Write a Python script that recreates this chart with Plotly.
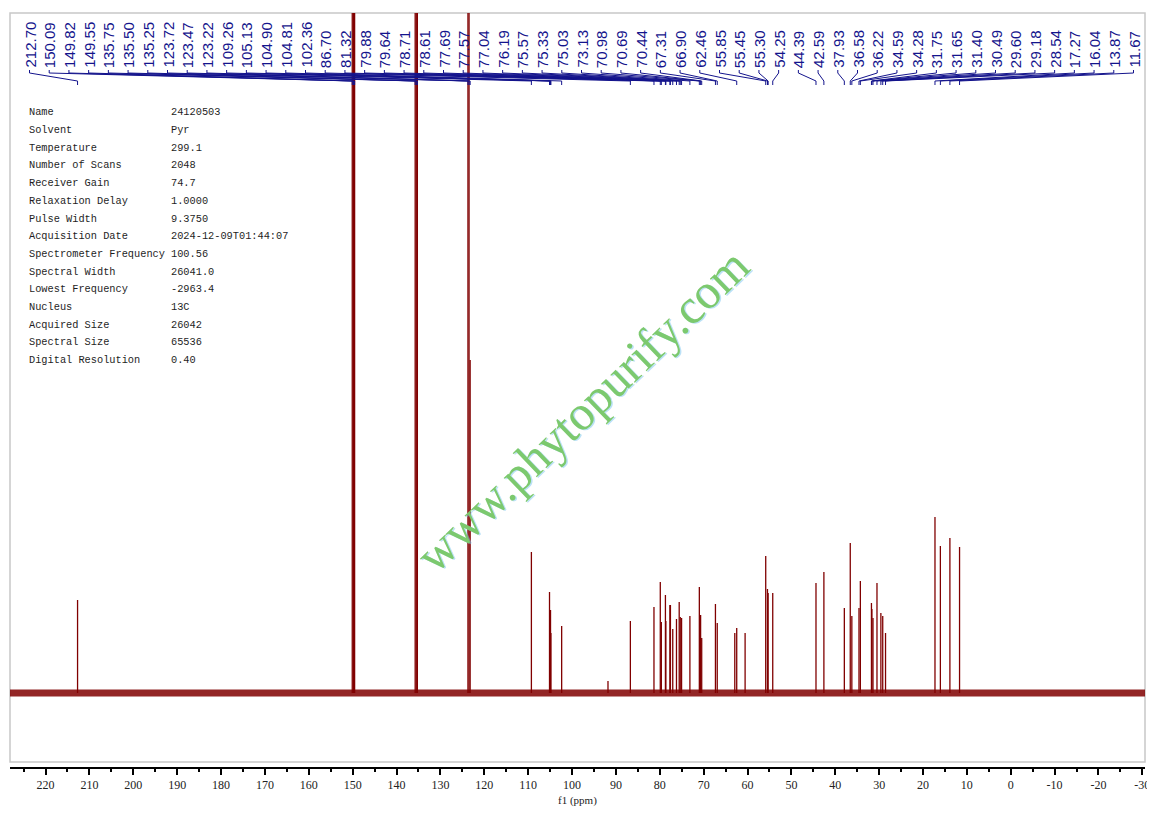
import numpy as np
import plotly.graph_objects as go

# --- data (13C, pyridine-d5) ---
# labelled peaks, ppm, in the order they appear in the label row
peak_ppm = [212.70, 150.09, 149.82, 149.55, 135.75, 135.50, 135.25, 123.72, 123.47, 123.22,
            109.26, 105.13, 104.90, 104.81, 102.36, 86.70, 81.32, 79.88, 79.64, 78.71,
            78.61, 77.69, 77.57, 77.04, 76.19, 75.57, 75.33, 75.03, 73.13, 70.98,
            70.69, 70.44, 67.31, 66.90, 62.46, 55.85, 55.45, 55.30, 54.25, 44.39,
            42.59, 37.93, 36.58, 36.22, 34.59, 34.28, 31.75, 31.65, 31.40, 30.49,
            29.60, 29.18, 28.54, 17.27, 16.04, 13.87, 11.67]
# peak intensities (arbitrary units, solvent peaks go off scale)
peak_int = [93, 2400, 3000, 2400, 2400, 3000, 2400, 2400, 3000, 333,
            141, 101, 83, 60, 67, 72, 86, 111, 71, 98,
            72, 88, 88, 64, 74, 91, 76, 75, 77, 106,
            78, 55, 89, 70, 65, 137, 104, 100, 100, 110,
            121, 85, 150, 77, 85, 112, 90, 84, 75, 110,
            80, 77, 60, 176, 147, 155, 146]
# small peaks without a label
extra_ppm = [62.90, 60.55, 91.80]
extra_int = [60, 60, 12]

param_names = ['Name', 'Solvent', 'Temperature', 'Number of Scans', 'Receiver Gain',
               'Relaxation Delay', 'Pulse Width', 'Acquisition Date', 'Spectrometer Frequency',
               'Spectral Width', 'Lowest Frequency', 'Nucleus', 'Acquired Size',
               'Spectral Size', 'Digital Resolution']
param_values = ['24120503', 'Pyr', '299.1', '2048', '74.7', '1.0000', '9.3750',
                '2024-12-09T01:44:07', '100.56', '26041.0', '-2963.4', '13C', '26042',
                '65536', '0.40']

tick_vals = list(range(220, -31, -10))
tick_text = [str(v) for v in tick_vals]

# --- layout helpers ---
# the page body has an 8px margin, so the figure starts at page pixel (8, 8)
OFF = 8
PAGE_W, PAGE_H = 1155, 813
W, H = PAGE_W - OFF, PAGE_H - OFF
PLOT_LEFT, PLOT_RIGHT, PLOT_TOP, PLOT_BOTTOM = 10, 1145, 13, 767   # page pixels
L, R, T, B = PLOT_LEFT - OFF, PAGE_W - PLOT_RIGHT, PLOT_TOP - OFF, PAGE_H - PLOT_BOTTOM
X_RANGE = [228.1, -30.6]
BASE_PX = 693                      # baseline row, page pixels
Y_RANGE = [BASE_PX - PLOT_BOTTOM, BASE_PX - PLOT_TOP]   # 1 unit = 1 px
PX_PER_PPM = (PLOT_RIGHT - PLOT_LEFT) / (X_RANGE[0] - X_RANGE[1])

def px_to_ppm(px):
    return X_RANGE[0] - (px - PLOT_LEFT) / PX_PER_PPM

def px_to_y(py):
    return BASE_PX - py

def paper_x(px):
    return (px - PLOT_LEFT) / (PLOT_RIGHT - PLOT_LEFT)

def paper_y(py):
    return (PLOT_BOTTOM - py) / (PLOT_BOTTOM - PLOT_TOP)

RED = '#800000'
NAVY = '#14148c'

fig = go.Figure()

# noisy baseline band
fig.add_trace(go.Scatter(x=X_RANGE, y=[0, 0], mode='lines',
                         line=dict(color='rgba(128,0,0,0.85)', width=7),
                         hoverinfo='skip', showlegend=False))

# peaks as sticks
xs, ys = [], []
for p, h in zip(peak_ppm + extra_ppm, peak_int + extra_int):
    xs += [p, p, None]
    ys += [0, h, None]
fig.add_trace(go.Scatter(x=xs, y=ys, mode='lines', line=dict(color=RED, width=1.3),
                         showlegend=False))

# peak labels and their connector lines
label_x = [px_to_ppm(px) for px in np.linspace(29.5, 1133.5, len(peak_ppm))]
cx, cy = [], []
for lx, p in zip(label_x, peak_ppm):
    cx += [lx, lx, p, p, None]
    cy += [px_to_y(70), px_to_y(73), px_to_y(81), px_to_y(85), None]
fig.add_trace(go.Scatter(x=cx, y=cy, mode='lines', line=dict(color=NAVY, width=1),
                         hoverinfo='skip', showlegend=False))

annotations = []
for lx, p in zip(label_x, peak_ppm):
    annotations.append(dict(x=lx, y=px_to_y(69), xref='x', yref='y', text='%.2f' % p,
                            textangle=-90, xanchor='center', yanchor='bottom',
                            showarrow=False, borderpad=0,
                            font=dict(family='Liberation Sans', size=15, color=NAVY)))

# acquisition parameters table
for i, (n, v) in enumerate(zip(param_names, param_values)):
    py = 112.3 + i * 17.7
    for px, txt in [(27, n), (169, v)]:
        annotations.append(dict(x=paper_x(px), y=paper_y(py), xref='paper', yref='paper',
                                text=txt, xanchor='left', yanchor='middle', showarrow=False,
                                font=dict(family='Liberation Mono', size=10.3, color='#1e1e1e')))

# watermark
for dx, dy, col in [(1.5, -1.5, 'rgba(120,195,240,0.5)'), (0, 0, '#7cc96e')]:
    annotations.append(dict(x=paper_x(582), y=paper_y(410), xref='paper', yref='paper',
                            text='www.phytopurify.com', textangle=-44, showarrow=False,
                            xanchor='center', yanchor='middle', xshift=dx, yshift=dy,
                            font=dict(family='Liberation Serif', size=49, color=col)))

# axis title
annotations.append(dict(x=0.5, y=paper_y(800), xref='paper', yref='paper', text='f1 (ppm)',
                        showarrow=False, xanchor='center', yanchor='middle',
                        font=dict(family='Liberation Serif', size=11, color='#222')))

fig.update_layout(
    width=W, height=H,
    margin=dict(l=L, r=R, t=T, b=B, pad=0),
    paper_bgcolor='white', plot_bgcolor='white',
    showlegend=False,
    annotations=annotations,
    shapes=[dict(type='rect', xref='paper', yref='paper', x0=0, x1=1,
                 y0=paper_y(762), y1=1, line=dict(color='#c8c8c8', width=1.5), layer='below')],
    xaxis=dict(range=X_RANGE, showgrid=False, zeroline=False, showline=True,
               linecolor='black', linewidth=2, ticks='outside', ticklen=6, tickwidth=1.5,
               tickcolor='black', tickmode='array', tickvals=tick_vals, ticktext=tick_text,
               tickfont=dict(family='Liberation Serif', size=12, color='#222'),
               minor=dict(dtick=5, tick0=0, ticks='outside', ticklen=3, tickwidth=1.5,
                          tickcolor='black', showgrid=False)),
    yaxis=dict(range=Y_RANGE, visible=False, showgrid=False, zeroline=False),
)

fig.write_html("out.html")
